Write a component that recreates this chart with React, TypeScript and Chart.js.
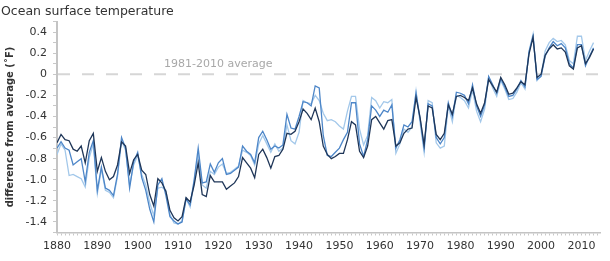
import React, { useEffect, useRef } from "react";
import { Chart, registerables } from "chart.js";

Chart.register(...registerables);

const TITLE = "Ocean surface temperature";
const Y_TITLE = "difference from average (˚F)";
const AVG_LABEL = "1981-2010 average";

const START_YEAR = 1880;

// dark navy series
const seriesDark = [
  -0.65, -0.57, -0.62, -0.63, -0.71, -0.73, -0.68, -0.84, -0.63, -0.56,
  -0.92, -0.79, -0.92, -1.0, -0.97, -0.86, -0.64, -0.68, -0.94, -0.81,
  -0.76, -0.91, -0.95, -1.14, -1.25, -0.99, -1.03, -1.11, -1.29, -1.36,
  -1.39, -1.35, -1.17, -1.21, -1.05, -0.84, -1.14, -1.16, -0.96, -1.02,
  -1.02, -1.02, -1.09, -1.06, -1.03, -0.97, -0.79, -0.84, -0.89, -0.98,
  -0.76, -0.71, -0.79, -0.89, -0.78, -0.77, -0.71, -0.56, -0.57, -0.54,
  -0.45, -0.33, -0.37, -0.43, -0.32, -0.45, -0.68, -0.76, -0.8, -0.78,
  -0.75, -0.75, -0.62, -0.45, -0.48, -0.73, -0.79, -0.68, -0.43, -0.4,
  -0.46, -0.52, -0.44, -0.43, -0.68, -0.65, -0.56, -0.52, -0.51, -0.22,
  -0.41, -0.67, -0.3, -0.32, -0.57, -0.62, -0.56, -0.29, -0.38, -0.21,
  -0.2, -0.22, -0.25, -0.13, -0.28, -0.37, -0.27, -0.05, -0.11, -0.17,
  -0.03, -0.1, -0.19, -0.18, -0.13, -0.07, -0.1, 0.19, 0.35, -0.03,
  0.0, 0.18, 0.24, 0.28, 0.24, 0.25, 0.21, 0.08, 0.05, 0.25,
  0.27, 0.1, 0.16, 0.24,
];

// medium blue series
const seriesMid = [
  -0.7, -0.64, -0.7, -0.72, -0.86, -0.83, -0.8, -1.02, -0.74, -0.63,
  -1.1, -0.88, -1.08, -1.1, -1.15, -0.95, -0.6, -0.7, -1.08, -0.83,
  -0.74, -0.98, -1.1, -1.28, -1.4, -1.05, -0.99, -1.15, -1.35, -1.39,
  -1.42, -1.4, -1.18, -1.24, -1.0, -0.7, -1.03, -1.02, -0.85, -0.93,
  -0.84, -0.8, -0.95, -0.94, -0.91, -0.88, -0.68, -0.73, -0.76, -0.84,
  -0.6, -0.54, -0.62, -0.71, -0.68, -0.7, -0.67, -0.38, -0.51, -0.52,
  -0.4, -0.26, -0.27, -0.3, -0.11, -0.13, -0.58, -0.77, -0.78, -0.74,
  -0.7, -0.62, -0.55, -0.27, -0.27, -0.66, -0.78, -0.62, -0.3, -0.34,
  -0.4, -0.34, -0.36, -0.29, -0.7, -0.62, -0.48, -0.5, -0.45, -0.18,
  -0.42, -0.7, -0.28, -0.3, -0.6, -0.66, -0.6, -0.27, -0.4, -0.17,
  -0.18, -0.2, -0.28, -0.1, -0.3, -0.4, -0.29, -0.02, -0.1, -0.18,
  -0.04, -0.12, -0.21, -0.2, -0.14, -0.06, -0.12, 0.21, 0.36, -0.05,
  -0.02, 0.17, 0.25, 0.31, 0.27, 0.29, 0.25, 0.1, 0.06, 0.28,
  0.28, 0.08, 0.17, 0.25,
];

// light blue series
const seriesLight = [
  -0.76, -0.66, -0.72, -0.96, -0.95, -0.97, -0.99, -1.07, -0.79, -0.66,
  -1.13, -0.9, -1.1, -1.12, -1.17, -0.97, -0.63, -0.72, -1.05, -0.86,
  -0.77, -0.95, -1.05, -1.22, -1.34, -1.08, -1.07, -1.1, -1.33, -1.41,
  -1.42, -1.39, -1.18, -1.26, -1.02, -0.75, -1.05, -1.08, -0.92, -0.95,
  -0.88, -0.85, -0.94, -0.93, -0.9, -0.87, -0.72, -0.74, -0.77, -0.86,
  -0.66, -0.58, -0.66, -0.74, -0.66, -0.73, -0.7, -0.48, -0.63, -0.66,
  -0.55, -0.25, -0.27, -0.28, -0.2, -0.25, -0.37, -0.44, -0.43, -0.45,
  -0.49, -0.52, -0.35, -0.21, -0.21, -0.52, -0.67, -0.58, -0.22, -0.25,
  -0.32, -0.26, -0.27, -0.24, -0.75, -0.66, -0.52, -0.55, -0.5, -0.16,
  -0.46, -0.74, -0.25, -0.27, -0.65, -0.7, -0.68, -0.3, -0.45, -0.2,
  -0.22, -0.25, -0.32, -0.15, -0.35, -0.45, -0.33, -0.03, -0.13, -0.21,
  -0.06, -0.14, -0.24, -0.23, -0.17, -0.08, -0.14, 0.22, 0.38, -0.06,
  -0.01, 0.22, 0.3, 0.34, 0.31, 0.32, 0.28, 0.13, 0.1, 0.36,
  0.36, 0.13, 0.22, 0.3,
];

const xTickLabels = ["1880", "1890", "1900", "1910", "1920", "1930", "1940", "1950", "1960", "1970", "1980", "1990", "2000", "2010"];
const yTickLabels = ["0.4", "0.2", "0", "-0.2", "-0.4", "-0.6", "-0.8", "-1.0", "-1.2", "-1.4"];

const FONT = '"DejaVu Sans", Verdana, sans-serif';

function toPoints(values: number[]) {
  return values.map((v, i) => ({ x: START_YEAR + i, y: v }));
}

function fmtY(v: number): string {
  const r = Math.round(v * 10) / 10;
  if (Math.abs(r) < 1e-9) return "0";
  return r.toFixed(1);
}

const overlayPlugin = {
  id: "overlay",
  beforeDatasetsDraw(chart: any) {
    const { ctx, chartArea, scales } = chart;
    const y0 = scales.y.getPixelForValue(0);
    ctx.save();
    ctx.strokeStyle = "#d6d6d6";
    ctx.lineWidth = 2;
    ctx.setLineDash([12, 12]);
    ctx.beginPath();
    ctx.moveTo(chartArea.left + 1, y0);
    ctx.lineTo(chartArea.right + 2, y0);
    ctx.stroke();
    ctx.setLineDash([]);
    ctx.fillStyle = "#a8a8a8";
    ctx.font = `11px ${FONT}`;
    ctx.textAlign = "center";
    ctx.textBaseline = "middle";
    ctx.fillText(AVG_LABEL, scales.x.getPixelForValue(1920), y0 - 10.5);
    ctx.restore();
  },
  afterDraw(chart: any) {
    const { ctx } = chart;
    ctx.save();
    ctx.fillStyle = "#333333";
    ctx.font = `12.5px ${FONT}`;
    ctx.textAlign = "left";
    ctx.textBaseline = "alphabetic";
    ctx.fillText(TITLE, 1, 15);
    ctx.restore();
  },
};

export default function App() {
  const canvasRef = useRef<HTMLCanvasElement | null>(null);

  useEffect(() => {
    const canvas = canvasRef.current;
    if (!canvas) return;
    const chart = new Chart(canvas, {
      type: "line",
      data: {
        datasets: [
          {
            label: "dark",
            data: toPoints(seriesDark),
            borderColor: "#1f3658",
            borderWidth: 1.3,
            pointRadius: 0,
            tension: 0,
          },
          {
            label: "mid",
            data: toPoints(seriesMid),
            borderColor: "#4d86c8",
            borderWidth: 1.3,
            pointRadius: 0,
            tension: 0,
          },
          {
            label: "light",
            data: toPoints(seriesLight),
            borderColor: "#a3c8ea",
            borderWidth: 1.3,
            pointRadius: 0,
            tension: 0,
          },
        ],
      },
      options: {
        responsive: false,
        animation: false,
        devicePixelRatio: 1,
        layout: { padding: { top: 21.5, right: 10, left: 0, bottom: 0 } },
        plugins: {
          legend: { display: false },
          tooltip: { enabled: false },
          title: { display: false },
        },
        scales: {
          x: {
            type: "linear",
            min: 1880,
            max: 2014.6,
            afterFit: (scale: any) => {
              scale.height = 28.5;
            },
            grid: {
              drawOnChartArea: false,
              drawTicks: true,
              tickLength: 3,
              color: "#c8c8c8",
            },
            border: { display: true, color: "#c4c4c4", width: 1.5 },
            ticks: {
              stepSize: 1,
              autoSkip: false,
              maxRotation: 0,
              minRotation: 0,
              includeBounds: false,
              padding: 4,
              color: "#333333",
              font: { family: FONT, size: 11 },
              callback: (v: any) => {
                const s = String(Math.round(Number(v) * 1000) / 1000);
                return xTickLabels.includes(s) ? s : "";
              },
            },
          },
          y: {
            type: "linear",
            min: -1.5,
            max: 0.5,
            afterFit: (scale: any) => {
              scale.width = 57;
            },
            grid: {
              drawOnChartArea: false,
              drawTicks: true,
              tickLength: 4,
              color: "#c8c8c8",
            },
            border: { display: true, color: "#c4c4c4", width: 2 },
            title: {
              display: true,
              text: Y_TITLE,
              color: "#333333",
              font: { family: FONT, size: 10, weight: "bold" },
              padding: { top: 4, bottom: 0 },
            },
            ticks: {
              stepSize: 0.1,
              autoSkip: false,
              padding: 6,
              color: "#333333",
              font: { family: FONT, size: 11 },
              callback: (v: any) => {
                const s = fmtY(Number(v));
                return yTickLabels.includes(s) ? s : "";
              },
            },
          },
        },
      },
      plugins: [overlayPlugin],
    });
    return () => chart.destroy();
  }, []);

  return (
    <div style={{ position: "absolute", left: 0, top: 0, width: 610, height: 261 }}>
      <canvas ref={canvasRef} width={610} height={261} style={{ width: 610, height: 261 }} />
    </div>
  );
}
